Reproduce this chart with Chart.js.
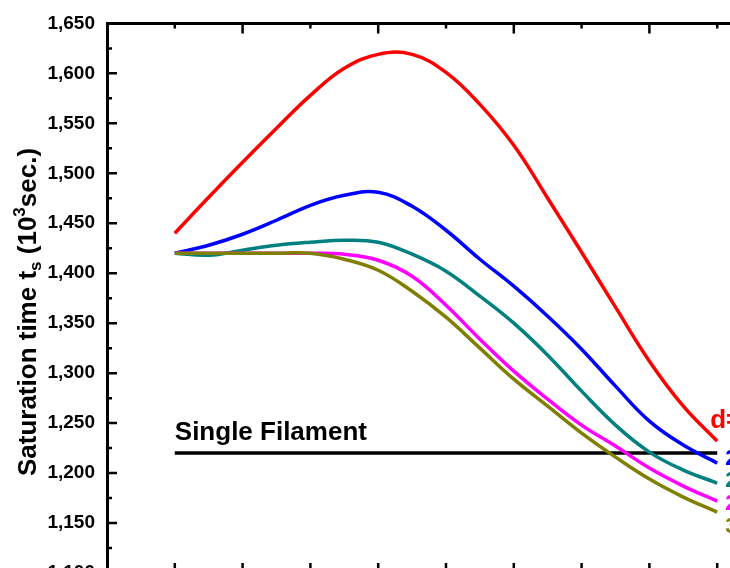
<!DOCTYPE html>
<html><head><meta charset="utf-8">
<style>
html,body{margin:0;padding:0;overflow:hidden;background:#fff;width:730px;height:568px}
#wrap{position:absolute;left:0;top:0;width:800px;height:640px}
canvas{display:block}
</style>
<script src="https://cdn.jsdelivr.net/npm/chart.js@4.4.1/dist/chart.umd.min.js"></script>
</head><body><div id="wrap"><canvas id="c" width="800" height="640"></canvas></div>
<script>
// ---- data ----
const xPositions     = [0,0.5,1,1.5,2,2.5,3,3.5,4,4.5,5,5.5,6,6.5,7,7.5,8];
const redValues      = [1440,1476,1511,1545,1578,1605,1619,1619,1601,1569,1528,1475,1421,1366,1312,1267,1232];
const blueValues     = [1420,1428,1439,1453,1468,1478,1481,1467,1443,1414,1387,1357,1324,1287,1252,1228,1210];
const tealValues     = [1420,1418,1423,1428,1431,1433,1431,1419,1402,1377,1350,1318,1282,1248,1221,1203,1190];
const magentaValues  = [1420,1420,1420,1420,1420,1419,1413,1397,1368,1334,1302,1274,1248,1227,1205,1187,1172];
const oliveValues    = [1420,1420,1420,1420,1420,1414,1403,1382,1356,1325,1294,1267,1240,1216,1194,1176,1161];
const singleX        = [0,8];
const singleValues   = [1220,1220];
const seriesLabels   = ['d=10 μm','20 μm','25 μm','28 μm','30 μm'];
const seriesColors   = ['#ff0000','#0000ff','#008080','#ff00ff','#808000'];
const singleLabel    = 'Single Filament';
const yTitleParts    = ['Saturation time t','s',' (10','3','sec.)'];
const yMin = 1100, yMax = 1650, yStep = 50, yMinorStep = 25;
const xMin = -1, xMax = 9;
const xTickValues = [0,1,2,3,4,5,6,7,8];

const FONT = "'Liberation Sans', Arial, sans-serif";
const toPts = (xs, ys) => xs.map((x,i)=>({x, y: ys[i]}));
const allSeries = [redValues, blueValues, tealValues, magentaValues, oliveValues];

const datasets = allSeries.map((vals,i)=>({
  label: seriesLabels[i],
  data: toPts(xPositions, vals),
  borderColor: seriesColors[i],
  borderWidth: 3.5,
  pointRadius: 0,
  tension: 0.4,
  fill: false,
  order: 5 - i
}));
datasets.push({
  label: singleLabel,
  data: toPts(singleX, singleValues),
  borderColor: '#000',
  borderWidth: 3.5,
  pointRadius: 0,
  tension: 0,
  fill: false,
  order: 10
});

const W = 800, H = 640;
const decor = {
  id: 'decor',
  afterDraw(chart) {
    const ctx = chart.ctx;
    const xs = chart.scales.x, ys = chart.scales.y;
    const ca = chart.chartArea;
    ctx.save();
    ctx.strokeStyle = '#000';
    ctx.lineWidth = 2.5;
    for (let v = yMin; v <= yMax; v += yMinorStep) {
      const y = ys.getPixelForValue(v);
      const len = (v % yStep === 0) ? 10 : 5;
      ctx.beginPath();
      ctx.moveTo(ca.left, y); ctx.lineTo(ca.left + len, y);
      ctx.moveTo(ca.right, y); ctx.lineTo(ca.right - len, y);
      ctx.stroke();
    }
    xTickValues.forEach((v, i) => {
      const x = xs.getPixelForValue(v);
      ctx.beginPath();
      ctx.moveTo(x, ca.bottom); ctx.lineTo(x, ca.bottom - 10);
      const tl = (i % 2 === 1) ? 10 : 5;
      ctx.moveTo(x, ca.top); ctx.lineTo(x, ca.top + tl);
      ctx.stroke();
    });
    ctx.fillStyle = '#000';
    ctx.font = 'bold 26px ' + FONT;
    ctx.textAlign = 'left';
    ctx.textBaseline = 'alphabetic';
    ctx.fillText(singleLabel, xs.getPixelForValue(singleX[0]), ys.getPixelForValue(singleValues[0]) - 13);
    const lastX = xs.getPixelForValue(xPositions[xPositions.length - 1]);
    const labelPos = [
      {dx: -7, y: 428, size: 26},
      {dx: 8, y: 465, size: 22},
      {dx: 8, y: 487, size: 22},
      {dx: 8, y: 510, size: 22},
      {dx: 8, y: 533, size: 22}
    ];
    labelPos.forEach((p, i) => {
      ctx.fillStyle = seriesColors[i];
      ctx.font = 'bold ' + p.size + 'px ' + FONT;
      ctx.fillText(seriesLabels[i], lastX + p.dx, p.y);
    });
    const parts = [
      {t: yTitleParts[0], size: 26, dy: 0},
      {t: yTitleParts[1], size: 17, dy: 5},
      {t: yTitleParts[2], size: 26, dy: 0},
      {t: yTitleParts[3], size: 17, dy: -11},
      {t: yTitleParts[4], size: 26, dy: 0}
    ];
    let total = 0;
    parts.forEach(p => { ctx.font = 'bold ' + p.size + 'px ' + FONT; p.w = ctx.measureText(p.t).width; total += p.w; });
    const centerY = 312, baseX = 36;
    ctx.translate(baseX, centerY + total / 2);
    ctx.rotate(-Math.PI / 2);
    ctx.fillStyle = '#000';
    let u = 0;
    parts.forEach(p => {
      ctx.font = 'bold ' + p.size + 'px ' + FONT;
      ctx.fillText(p.t, u, p.dy);
      u += p.w;
    });
    ctx.restore();
  }
};

new Chart(document.getElementById('c'), {
  type: 'line',
  data: { datasets },
  options: {
    responsive: false,
    animation: false,
    devicePixelRatio: 1,
    layout: { padding: 0 },
    plugins: { legend: { display: false }, tooltip: { enabled: false } },
    scales: {
      x: {
        type: 'linear', position: 'bottom', min: xMin, max: xMax,
        grid: { display: false, drawTicks: false },
        border: { display: true, width: 3, color: '#000' },
        ticks: { display: false },
        afterFit: s => { s.height = H - 573; }
      },
      x2: {
        type: 'linear', position: 'top', min: xMin, max: xMax,
        grid: { display: false, drawTicks: false },
        border: { display: true, width: 3, color: '#000' },
        ticks: { display: false },
        afterFit: s => { s.height = 21; }
      },
      y: {
        type: 'linear', position: 'left', min: yMin, max: yMax,
        grid: { display: false, drawTicks: false },
        border: { display: true, width: 3, color: '#000' },
        ticks: {
          stepSize: yStep, padding: 12, color: '#000',
          font: { family: FONT, size: 19, weight: 'bold' },
          callback: v => Number(v).toLocaleString('en-US')
        },
        afterFit: s => { s.width = 107; }
      },
      y2: {
        type: 'linear', position: 'right', min: yMin, max: yMax,
        grid: { display: false, drawTicks: false },
        border: { display: true, width: 3, color: '#000' },
        ticks: { display: false },
        afterFit: s => { s.width = W - 785; }
      }
    }
  },
  plugins: [decor]
});
</script>
</body></html>
